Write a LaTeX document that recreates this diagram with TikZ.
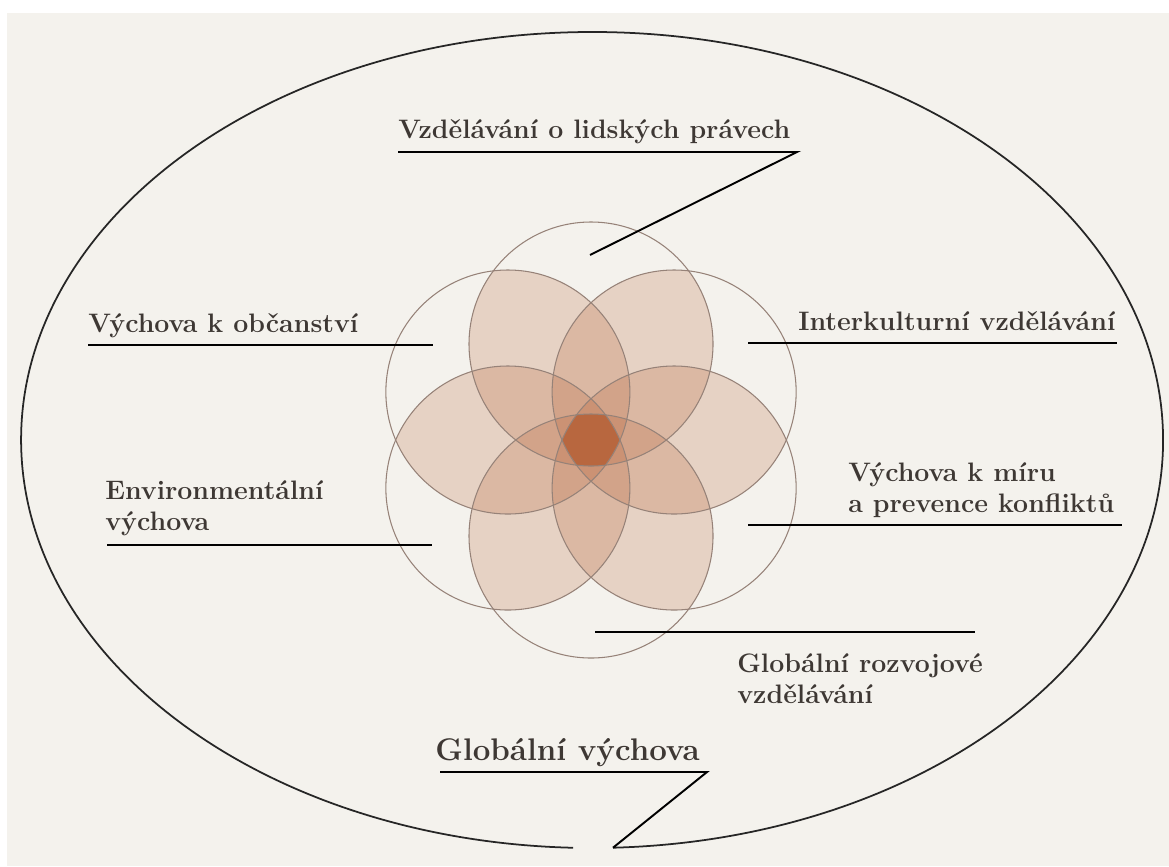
\documentclass[tikz,border=0pt]{standalone}
\usepackage{fontspec}
\usepackage{tikz}

\definecolor{paper}{RGB}{244,242,237}
\definecolor{ink}{RGB}{62,56,52}
\definecolor{rim}{RGB}{150,130,120}
\definecolor{petal}{RGB}{175,82,35}

\tikzset{
	lbl/.style={inner sep=0pt, anchor=base west, text=ink, align=left,
		font=\fontsize{15.2}{17.6}\selectfont\bfseries},
	biglbl/.style={lbl, font=\fontsize{17.8}{20}\selectfont\bfseries},
	leader/.style={line width=1.1pt, black},
	frame/.style={line width=1pt, black!85},
	ring/.style={rim, line width=0.6pt},
	leaf/.style={petal, fill opacity=0.2},
	core/.style={petal, fill opacity=0.45}
}

\begin{document}
\begin{tikzpicture}[x=0.02cm, y=0.02cm]
	\fill[white] (0,0) rectangle (1169,-866);
	\fill[paper] (7,-13) rectangle (1169,-866);
	\useasboundingbox (0,0) rectangle (1169,-866);
	
	\coordinate (mid) at (591,-440);
	\foreach \i in {0,...,5}
		\coordinate (c\i) at ([shift={(90+60*\i:96)}]mid);
	
	% petals: overlap of neighbouring circles
	\foreach \i [evaluate=\i as \j using {int(mod(\i+1,6))}] in {0,...,5} {
		\begin{scope}
			\clip (c\i) circle [radius=122];
			\fill[leaf] (c\j) circle [radius=122];
		\end{scope}
	}
	% dark heart where all six meet
	\begin{scope}
		\foreach \i in {1,...,5}
			\clip (c\i) circle [radius=122];
		\fill[core] (c0) circle [radius=122];
	\end{scope}
	\foreach \i in {0,...,5}
		\draw[ring] (c\i) circle [radius=122];
	
	% outer ellipse with the gap at the bottom
	\coordinate (gap) at (613,-847.7);
	\draw[frame] (gap) arc [start angle=272.1, end angle=628.1, x radius=571, y radius=408];
	
	\node[lbl] (hr) at (398,-138) {Vzdělávání o lidských právech};
	\node[lbl] (civ) at (88,-332) {Výchova k občanství};
	\node[lbl] (env) at (105,-530) {Environmentální\\výchova};
	\node[lbl] (icu) at (798,-330) {Interkulturní vzdělávání};
	\node[lbl] (peace) at (848,-512) {Výchova k míru\\a prevence konfliktů};
	\node[lbl] (dev) at (737,-703) {Globální rozvojové\\vzdělávání};
	\node[biglbl] (glob) at (435,-760) {Globální výchova};
	
	\coordinate (hr-a) at (398,-152);
	\coordinate (hr-b) at (797,-152);
	\coordinate (hr-c) at (590,-255);
	\coordinate (civ-a) at (88,-345);
	\coordinate (civ-b) at (433,-345);
	\coordinate (env-a) at (107,-545);
	\coordinate (env-b) at (432,-545);
	\coordinate (icu-a) at (748,-343);
	\coordinate (icu-b) at (1117,-343);
	\coordinate (peace-a) at (748,-525);
	\coordinate (peace-b) at (1122,-525);
	\coordinate (dev-a) at (595,-632);
	\coordinate (dev-b) at (975,-632);
	\coordinate (glob-a) at (440,-772);
	\coordinate (glob-b) at (707,-772);
	
	\draw[leader] (hr-a) -- (hr-b) -- (hr-c);
	\draw[leader] (civ-a) -- (civ-b);
	\draw[leader] (env-a) -- (env-b);
	\draw[leader] (icu-a) -- (icu-b);
	\draw[leader] (peace-a) -- (peace-b);
	\draw[leader] (dev-a) -- (dev-b);
	\draw[leader] (glob-a) -- (glob-b) -- (gap);
\end{tikzpicture}
\end{document}
